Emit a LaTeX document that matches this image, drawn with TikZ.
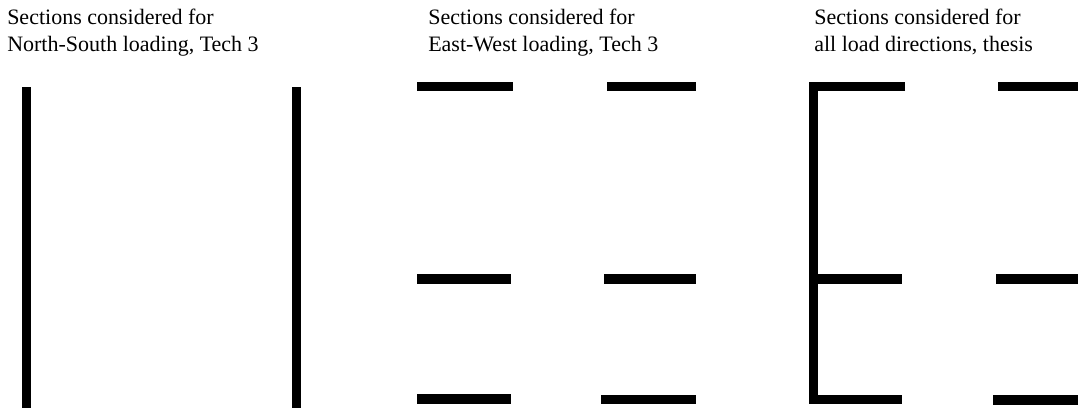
\documentclass[tikz,border=0pt]{standalone}
\usepackage{fontspec}
\setmainfont{Liberation Serif}
\tikzset{secfig/.style={x=0.75pt,y=-0.75pt,font=\fontsize{16.5}{20.6}\selectfont}}
\tikzset{sbar/.style={line width=7.2pt,line cap=butt,line join=miter},
         caption/.style={anchor=base west,align=left,inner sep=0pt}}

\begin{document}
\begin{tikzpicture}[secfig]
    \useasboundingbox (0,0) rectangle (1078,408);
    % captions (base = last line)
    \node[caption] (capns) at (7,51.5)   {Sections considered for\\North-South loading, Tech 3};
    \node[caption] (capew) at (428,51.5) {Sections considered for\\East-West loading, Tech 3};
    \node[caption] (capall) at (814,51.5) {Sections considered for\\all load directions, thesis};
    % North-South
    \draw[sbar] (26.5,87) -- (26.5,408);
    \draw[sbar] (296.5,87) -- (296.5,408);
    % East-West
    \draw[sbar] (417,86.5) -- (513,86.5);
    \draw[sbar] (607,86.5) -- (696,86.5);
    \draw[sbar] (417,279) -- (511,279);
    \draw[sbar] (604,279) -- (696,279);
    \draw[sbar] (417,399) -- (511,399);
    \draw[sbar] (601,399.5) -- (696,399.5);
    % all directions
    \draw[sbar] (905,86.5) -| (813.5,399.5) -- (902,399.5);
    \draw[sbar] (813.5,279) -- (902,279);
    \draw[sbar] (998,86.5) -- (1078,86.5);
    \draw[sbar] (996,279) -- (1078,279);
    \draw[sbar] (993,400) -- (1078,400);
\end{tikzpicture}
\end{document}
